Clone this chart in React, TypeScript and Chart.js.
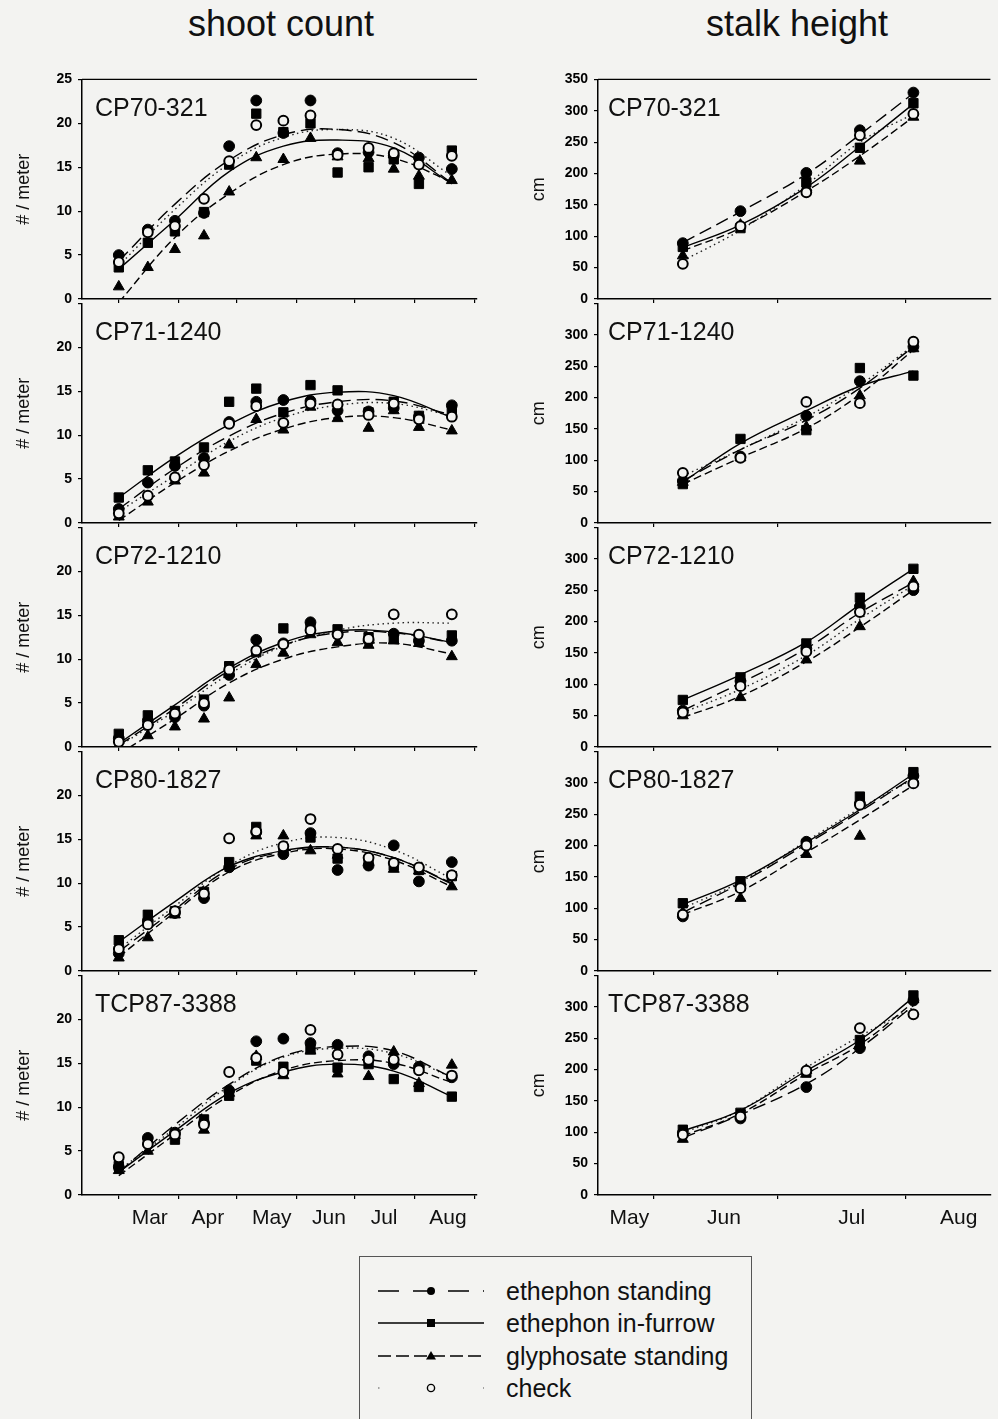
import React, { useEffect, useRef } from "react";
import { Chart, registerables } from "chart.js";

Chart.register(...registerables);

const FONT = '"Liberation Sans", Arial, Helvetica, sans-serif';
const BG = "#f3f3f1";
const INK = "#111";

// ---------- categories ----------
const TREATMENTS = ["ethephon standing", "ethephon in-furrow", "glyphosate standing", "check"];
const VARIETIES = ["CP70-321", "CP71-1240", "CP72-1210", "CP80-1827", "TCP87-3388"];

// ---------- x positions (day of year) ----------
const SHOOT_DAYS = [59, 74, 88, 103, 116, 130, 144, 158, 172, 188, 201, 214, 231];
const SHOOT_FIT_DAYS = [59, 88, 116, 144, 172, 201, 231];
const HEIGHT_DAYS = [158, 172, 188, 201, 214];

// ---------- axis ticks ----------
const SHOOT_MONTH_TICKS = [59, 90, 120, 151, 181, 212, 243];
const SHOOT_MONTH_LABELS = ["Mar", "Apr", "May", "Jun", "Jul", "Aug"];
const SHOOT_MONTH_LABEL_DAYS = [75, 105, 138, 167.5, 196, 229];
const HEIGHT_MONTH_TICKS = [151, 181, 212];
const HEIGHT_MONTH_LABELS = ["May", "Jun", "Jul", "Aug"];
const HEIGHT_MONTH_LABEL_DAYS = [145, 168, 199, 225];
const SHOOT_Y_TICKS = [0, 5, 10, 15, 20, 25];
const HEIGHT_Y_TICKS = [0, 50, 100, 150, 200, 250, 300, 350];

// ---------- shoot count (# / meter): [ethephon standing, ethephon in-furrow, glyphosate standing, check] ----------
const SHOOT_CP70_321 = [
  [5.0, 7.9, 8.9, 9.8, 17.4, 22.6, 18.9, 22.6, 16.6, 16.7, 16.3, 16.1, 14.8],
  [3.6, 6.4, 7.7, 9.9, 15.3, 21.1, 19.0, 20.0, 14.4, 15.0, 15.9, 13.1, 16.9],
  [1.4, 3.6, 5.65, 7.2, 12.2, 16.1, 15.9, 18.3, 16.2, 16.0, 14.8, 14.0, 13.5],
  [4.2, 7.6, 8.3, 11.4, 15.7, 19.8, 20.3, 20.9, 16.4, 17.2, 16.6, 15.3, 16.3],
];
const SHOOT_FIT_CP70_321 = [
  [4.3, 10.8, 15.8, 18.7, 19.3, 17.8, 13.2],
  [3.4, 9.0, 14.5, 17.4, 18.1, 17.2, 13.1],
  [-0.4, 7.0, 12.0, 15.3, 16.5, 16.0, 13.3],
  [3.8, 10.2, 15.4, 18.4, 19.3, 18.3, 14.0],
];
const SHOOT_CP71_1240 = [
  [1.6, 4.6, 6.5, 7.4, 11.5, 13.8, 14.0, 13.9, 12.8, 12.7, 13.1, 12.1, 13.4],
  [2.9, 6.0, 7.0, 8.6, 13.8, 15.3, 12.6, 15.7, 15.1, 12.6, 13.8, 12.2, 12.8],
  [0.7, 2.4, 4.8, 5.7, 8.9, 11.8, 10.6, 13.2, 11.9, 10.8, 12.8, 10.9, 10.5],
  [1.1, 3.1, 5.2, 6.6, 11.3, 13.3, 11.4, 13.6, 13.5, 12.3, 13.6, 11.8, 12.1],
];
const SHOOT_FIT_CP71_1240 = [
  [1.6, 6.2, 9.9, 12.5, 13.8, 13.9, 12.3],
  [2.9, 7.5, 11.2, 13.8, 14.9, 14.5, 12.0],
  [0.3, 4.6, 8.2, 10.7, 12.0, 12.0, 10.6],
  [1.3, 5.4, 9.3, 12.0, 13.4, 13.6, 12.2],
];
const SHOOT_CP72_1210 = [
  [1.0, 3.0, 3.4, 4.7, 8.2, 12.2, 11.8, 14.2, 12.9, 12.1, 12.9, 12.1, 12.1],
  [1.5, 3.6, 4.1, 5.4, 9.2, 10.8, 13.5, 13.6, 13.4, 12.5, 12.3, 12.3, 12.7],
  [0.2, 1.3, 2.3, 3.2, 5.6, 9.4, 10.7, 12.8, 11.9, 11.6, 12.1, 11.8, 10.3],
  [0.6, 2.5, 3.8, 5.0, 8.8, 11.0, 11.7, 13.3, 12.8, 12.3, 15.1, 12.8, 15.1],
];
const SHOOT_FIT_CP72_1210 = [
  [0.2, 4.4, 8.7, 11.6, 13.0, 13.0, 11.9],
  [0.4, 4.8, 9.0, 11.9, 13.2, 13.1, 11.9],
  [-0.8, 3.2, 7.3, 10.0, 11.4, 11.8, 10.6],
  [0.1, 4.1, 8.3, 11.5, 13.3, 14.1, 14.1],
];
const SHOOT_CP80_1827 = [
  [2.0, 5.7, 6.6, 8.3, 11.8, 15.8, 13.3, 15.7, 11.5, 12.0, 14.3, 10.2, 12.4],
  [3.5, 6.4, 6.8, 9.0, 12.4, 16.4, 13.9, 15.2, 12.8, 12.6, 12.0, 11.5, 10.8],
  [1.5, 3.8, 6.4, 8.6, 12.0, 15.4, 15.4, 13.7, 13.2, 12.4, 11.6, 11.4, 9.6],
  [2.5, 5.3, 6.8, 8.8, 15.1, 15.9, 14.2, 17.3, 13.9, 12.9, 12.3, 11.8, 10.9],
];
const SHOOT_FIT_CP80_1827 = [
  [2.2, 7.0, 11.6, 13.6, 14.1, 12.9, 10.0],
  [3.3, 7.9, 11.9, 13.7, 14.1, 12.9, 9.9],
  [1.6, 6.7, 11.3, 13.4, 13.9, 12.6, 9.6],
  [2.5, 7.4, 12.0, 14.6, 15.2, 13.8, 10.5],
];
const SHOOT_TCP87_3388 = [
  [3.2, 6.5, 7.1, 8.2, 11.9, 17.5, 17.8, 17.3, 17.1, 15.8, 14.9, 14.6, 13.4],
  [3.3, 6.0, 6.3, 8.6, 11.3, 15.3, 14.6, 16.6, 14.5, 14.9, 13.2, 12.3, 11.2],
  [2.8, 5.0, 6.8, 7.4, 11.6, 15.8, 13.6, 16.4, 13.8, 13.5, 16.3, 12.7, 14.8],
  [4.3, 5.8, 6.9, 8.0, 14.0, 15.6, 14.0, 18.8, 16.0, 15.4, 15.4, 14.2, 13.6],
];
const SHOOT_FIT_TCP87_3388 = [
  [2.6, 8.0, 12.6, 15.8, 16.9, 16.4, 13.4],
  [2.6, 7.3, 11.6, 14.0, 14.9, 14.1, 11.2],
  [2.2, 6.9, 11.3, 14.2, 15.3, 15.0, 12.8],
  [2.8, 7.6, 12.4, 15.7, 16.7, 16.1, 13.4],
];

// ---------- stalk height (cm) ----------
const HEIGHT_CP70_321 = [
  [89, 140, 201, 269, 329],
  [83, 113, 186, 241, 312],
  [69, 118, 178, 220, 290],
  [56, 116, 170, 261, 295],
];
const HEIGHT_FIT_CP70_321 = [
  [90, 139, 199, 262, 328],
  [82, 118, 178, 243, 311],
  [77, 113, 172, 228, 290],
  [61, 110, 182, 250, 295],
];
const HEIGHT_CP71_1240 = [
  [67, 106, 171, 226, 281],
  [62, 134, 148, 247, 235],
  [65, 104, 153, 203, 278],
  [80, 104, 193, 191, 289],
];
const HEIGHT_FIT_CP71_1240 = [
  [67, 117, 164, 215, 281],
  [65, 127, 179, 218, 242],
  [62, 104, 151, 205, 276],
  [75, 117, 169, 220, 283],
];
const HEIGHT_CP72_1210 = [
  [58, 105, 157, 224, 250],
  [75, 111, 165, 238, 284],
  [50, 79, 139, 192, 264],
  [55, 97, 152, 215, 256],
];
const HEIGHT_FIT_CP72_1210 = [
  [58, 102, 157, 214, 262],
  [75, 115, 167, 227, 284],
  [47, 81, 136, 191, 250],
  [55, 92, 146, 204, 258],
];
const HEIGHT_CP80_1827 = [
  [87, 137, 206, 267, 311],
  [108, 143, 202, 278, 317],
  [93, 116, 186, 215, 306],
  [90, 132, 200, 265, 299],
];
const HEIGHT_FIT_CP80_1827 = [
  [93, 140, 202, 254, 309],
  [106, 145, 205, 257, 314],
  [90, 127, 189, 241, 296],
  [100, 142, 207, 259, 306],
];
const HEIGHT_TCP87_3388 = [
  [99, 122, 172, 234, 310],
  [104, 131, 195, 247, 318],
  [89, 128, 199, 240, 312],
  [96, 125, 198, 266, 288],
];
const HEIGHT_FIT_TCP87_3388 = [
  [91, 128, 177, 234, 302],
  [102, 135, 198, 247, 315],
  [94, 130, 193, 240, 307],
  [99, 135, 203, 253, 299],
];

const SHOOT_POINTS = [SHOOT_CP70_321, SHOOT_CP71_1240, SHOOT_CP72_1210, SHOOT_CP80_1827, SHOOT_TCP87_3388];
const SHOOT_FITS = [SHOOT_FIT_CP70_321, SHOOT_FIT_CP71_1240, SHOOT_FIT_CP72_1210, SHOOT_FIT_CP80_1827, SHOOT_FIT_TCP87_3388];
const HEIGHT_POINTS = [HEIGHT_CP70_321, HEIGHT_CP71_1240, HEIGHT_CP72_1210, HEIGHT_CP80_1827, HEIGHT_TCP87_3388];
const HEIGHT_FITS = [HEIGHT_FIT_CP70_321, HEIGHT_FIT_CP71_1240, HEIGHT_FIT_CP72_1210, HEIGHT_FIT_CP80_1827, HEIGHT_FIT_TCP87_3388];

// ---------- styles (per treatment) ----------
const MARK_STYLES = [
  { pointStyle: "circle", radius: 5.4, fill: "#000", bw: 1, dash: [13, 6] },
  { pointStyle: "rect", radius: 6.6, fill: "#000", bw: 1, dash: [] as number[] },
  { pointStyle: "triangle", radius: 6.3, fill: "#000", bw: 1, dash: [8, 4] },
  { pointStyle: "circle", radius: 4.9, fill: BG, bw: 2, dash: [1.5, 3.5] },
];
const POINT_DRAW_ORDER = [3, 0, 1, 2];

type PanelProps = { col: number; row: number; label: string; points: number[][]; fits: number[][] };

function Panel({ col, row, label, points, fits }: PanelProps) {
  const ref = useRef<HTMLCanvasElement | null>(null);
  const isShoot = col === 0;
  const W = isShoot ? 490 : 478;
  const H = 274;
  const left = isShoot ? 0 : 520;
  const top = 65 + 224 * row;

  useEffect(() => {
    const canvas = ref.current;
    if (!canvas) return;
    const days = isShoot ? SHOOT_DAYS : HEIGHT_DAYS;
    const fitDays = isShoot ? SHOOT_FIT_DAYS : HEIGHT_DAYS;
    const monthTicks = isShoot ? SHOOT_MONTH_TICKS : HEIGHT_MONTH_TICKS;
    const monthLabels = isShoot ? SHOOT_MONTH_LABELS : HEIGHT_MONTH_LABELS;
    const monthLabelDays = isShoot ? SHOOT_MONTH_LABEL_DAYS : HEIGHT_MONTH_LABEL_DAYS;
    const yTicks = isShoot ? SHOOT_Y_TICKS : HEIGHT_Y_TICKS;
    const yMax = yTicks[yTicks.length - 1];

    const datasets: any[] = [];
    POINT_DRAW_ORDER.forEach((t) => {
      const s = MARK_STYLES[t];
      datasets.push({
        label: TREATMENTS[t],
        data: days.map((d, i) => ({ x: d, y: points[t][i] })),
        showLine: false,
        pointStyle: s.pointStyle,
        pointRadius: s.radius,
        pointBackgroundColor: s.fill,
        pointBorderColor: "#000",
        pointBorderWidth: s.bw,
      });
    });
    [0, 1, 2, 3].forEach((t) => {
      const s = MARK_STYLES[t];
      datasets.push({
        label: TREATMENTS[t] + " fit",
        data: fitDays.map((d, i) => ({ x: d, y: fits[t][i] })),
        showLine: true,
        pointRadius: 0,
        borderColor: t === 3 ? "#222" : "#000",
        borderWidth: t === 3 ? 1.4 : 1.4,
        borderDash: s.dash,
        tension: 0.4,
        fill: false,
      });
    });

    const decor = {
      id: "decor",
      afterDraw(chart: any) {
        const { ctx, chartArea: a, scales } = chart;
        ctx.save();
        ctx.fillStyle = INK;
        ctx.font = `25px ${FONT}`;
        ctx.textAlign = "left";
        ctx.textBaseline = "alphabetic";
        ctx.fillText(label, a.left + (isShoot ? 13 : 10), a.top + 37);
        if (row === 0) {
          ctx.strokeStyle = "#000";
          ctx.lineWidth = 1.3;
          ctx.beginPath();
          ctx.moveTo(a.left, a.top);
          ctx.lineTo(a.right, a.top);
          ctx.stroke();
        }
        if (row === VARIETIES.length - 1) {
          ctx.font = `21px ${FONT}`;
          ctx.textAlign = "center";
          ctx.textBaseline = "middle";
          monthLabels.forEach((m, i) => {
            ctx.fillText(m, scales.x.getPixelForValue(monthLabelDays[i]), a.bottom + 23);
          });
        }
        ctx.restore();
      },
    };

    const chart = new Chart(canvas, {
      type: "scatter",
      data: { datasets },
      options: {
        animation: false,
        responsive: false,
        maintainAspectRatio: false,
        events: [],
        layout: { padding: { top: 10, left: 0, right: isShoot ? 13 : 0, bottom: 0 } },
        plugins: { legend: { display: false }, tooltip: { enabled: false } },
        scales: {
          x: {
            type: "linear",
            min: isShoot ? 40 : 137.4,
            max: isShoot ? 244 : 232.7,
            afterBuildTicks: (s: any) => {
              s.ticks = monthTicks.map((v) => ({ value: v }));
            },
            afterFit: (s: any) => {
              s.height = 40;
            },
            ticks: { autoSkip: false, callback: () => "", maxRotation: 0 },
            grid: { drawOnChartArea: false, drawTicks: true, tickLength: 4, color: "#000", lineWidth: 1.2 },
            border: { display: true, color: "#000", width: 1.5 },
          },
          y: {
            type: "linear",
            min: 0,
            max: yMax,
            afterBuildTicks: (s: any) => {
              s.ticks = yTicks.map((v) => ({ value: v }));
            },
            afterFit: (s: any) => {
              s.width = isShoot ? 82 : 78;
            },
            ticks: {
              autoSkip: false,
              padding: 6,
              color: "#000",
              font: { family: FONT, size: 14, weight: "bold" },
              callback: (v: any) => (row > 0 && v === yMax ? "" : String(v)),
            },
            grid: { drawOnChartArea: false, drawTicks: true, tickLength: 4, color: "#000", lineWidth: 1.2 },
            border: { display: true, color: "#000", width: 1.5 },
            title: {
              display: true,
              text: isShoot ? "# / meter" : "cm",
              color: INK,
              font: { family: FONT, size: 18 },
              padding: { top: isShoot ? 13 : 8, bottom: 0 },
            },
          },
        },
      },
      plugins: [decor],
    } as any);
    return () => chart.destroy();
  }, []);

  return (
    <canvas
      ref={ref}
      width={W}
      height={H}
      style={{ position: "absolute", left, top, width: W, height: H }}
    />
  );
}

function LegendSample({ t }: { t: number }) {
  const y = 10;
  const mx = 53;
  if (t === 0) {
    return (
      <svg width={110} height={20}>
        <line x1={0} y1={y} x2={106} y2={y} stroke="#000" strokeWidth={1.3} strokeDasharray="21 14" />
        <circle cx={mx} cy={y} r={4} fill="#000" />
      </svg>
    );
  }
  if (t === 1) {
    return (
      <svg width={110} height={20}>
        <line x1={0} y1={y} x2={106} y2={y} stroke="#000" strokeWidth={1.3} />
        <rect x={mx - 4} y={y - 4} width={8} height={8} fill="#000" />
      </svg>
    );
  }
  if (t === 2) {
    return (
      <svg width={110} height={20}>
        <line x1={0} y1={y} x2={106} y2={y} stroke="#000" strokeWidth={1.3} strokeDasharray="13 5" />
        <polygon points={`${mx},${y - 5} ${mx + 5},${y + 3.5} ${mx - 5},${y + 3.5}`} fill="#000" />
      </svg>
    );
  }
  return (
    <svg width={110} height={20}>
      <line x1={0} y1={y} x2={106} y2={y} stroke="#555" strokeWidth={1.2} strokeDasharray="1.5 51" />
      <circle cx={mx} cy={y} r={3.6} fill={BG} stroke="#000" strokeWidth={1.4} />
    </svg>
  );
}

export default function App() {
  return (
    <div
      style={{
        position: "absolute",
        left: 0,
        top: 0,
        width: 998,
        height: 1419,
        overflow: "hidden",
        background: BG,
        fontFamily: FONT,
        color: INK,
      }}
    >
      <div style={{ position: "absolute", left: 131, top: 6, width: 300, textAlign: "center", fontSize: 36, lineHeight: "36px" }}>
        shoot count
      </div>
      <div style={{ position: "absolute", left: 647, top: 6, width: 300, textAlign: "center", fontSize: 36, lineHeight: "36px" }}>
        stalk height
      </div>

      {VARIETIES.map((v, r) => (
        <Panel key={"s" + v} col={0} row={r} label={v} points={SHOOT_POINTS[r]} fits={SHOOT_FITS[r]} />
      ))}
      {VARIETIES.map((v, r) => (
        <Panel key={"h" + v} col={1} row={r} label={v} points={HEIGHT_POINTS[r]} fits={HEIGHT_FITS[r]} />
      ))}

      <div
        style={{
          position: "absolute",
          left: 359,
          top: 1256,
          width: 393,
          height: 190,
          border: "1px solid #555",
          boxSizing: "border-box",
        }}
      >
        {TREATMENTS.map((t, i) => (
          <div key={t} style={{ position: "absolute", left: 0, top: 34 + i * 32.4 - 16, height: 32, width: 390 }}>
            <div style={{ position: "absolute", left: 18, top: 6 }}>
              <LegendSample t={i} />
            </div>
            <div style={{ position: "absolute", left: 146, top: 0, fontSize: 25, lineHeight: "32px", whiteSpace: "nowrap" }}>
              {t}
            </div>
          </div>
        ))}
      </div>
    </div>
  );
}
